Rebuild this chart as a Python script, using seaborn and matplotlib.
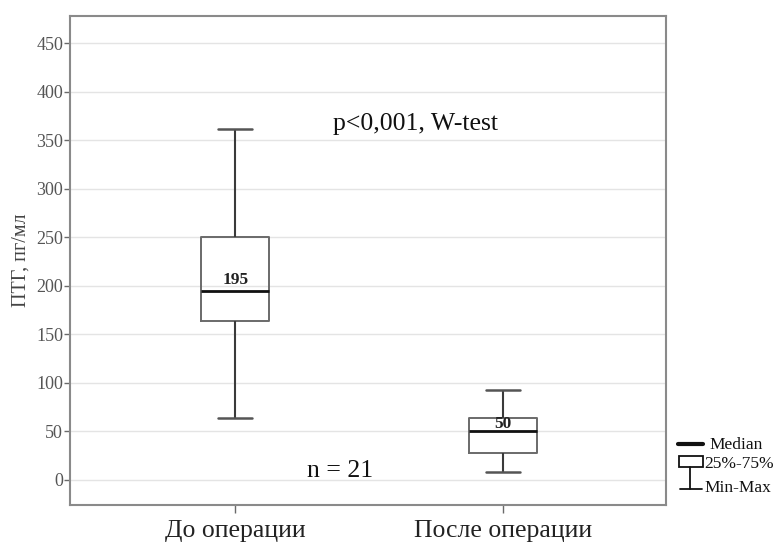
import matplotlib
matplotlib.use("Agg")
import matplotlib.pyplot as plt
from matplotlib.lines import Line2D
from matplotlib.patches import Rectangle
import seaborn as sns
import pandas as pd

# Summary values: min, Q1, median, Q3, max
categories = ["До операции", "После операции"]
before_vals = [64, 164, 195, 250, 362]
after_vals = [8, 28, 50, 64, 93]
medians = [195, 50]
y_ticks = [0, 50, 100, 150, 200, 250, 300, 350, 400, 450]

df = pd.DataFrame({
    "group": [categories[0]] * len(before_vals) + [categories[1]] * len(after_vals),
    "value": before_vals + after_vals,
})

sns.set_theme(style="white")
plt.rcParams["font.family"] = ["Liberation Serif", "DejaVu Serif"]

fig = plt.figure(figsize=(7.8, 5.42), dpi=100)
ax = fig.add_axes([70 / 780, 1 - 505 / 542, (666 - 70) / 780, (505 - 16) / 542])

line_c = "#3a3a3a"
sns.boxplot(
    data=df, x="group", y="value", order=categories, ax=ax,
    whis=(0, 100), width=0.254, fill=False, color=line_c, linecolor=line_c,
    linewidth=1.4,
    medianprops=dict(color="#111111", linewidth=2.0),
    boxprops=dict(color="#6a6a6a", linewidth=1.4),
    whiskerprops=dict(color=line_c, linewidth=1.5),
    capprops=dict(color="#555555", linewidth=1.8),
    showfliers=False,
)

ax.set_xlim(-0.618, 1.61)
ax.set_ylim(-26, 478)
ax.set_yticks(y_ticks)
ax.set_yticklabels([str(t) for t in y_ticks], fontsize=13, color="#555555")
ax.set_xticks([0, 1])
ax.set_xticklabels(categories, fontsize=18.5, color="#222222")
ax.set_xlabel("")
ax.set_ylabel("ПТГ, пг/мл", fontsize=14.5, color="#444444", labelpad=4)

ax.yaxis.grid(True, color="#e4e4e4", linewidth=1.0)
ax.set_axisbelow(True)
for s in ax.spines.values():
    s.set_visible(True)
    s.set_color("#8a8a8a")
    s.set_linewidth(1.5)
ax.tick_params(axis="both", direction="out", length=4, width=1.0, color="#6a6a6a",
               left=True, bottom=True, pad=1)
ax.tick_params(axis="x", length=6, pad=5)

label_offsets = [3, -1]
for i, m in enumerate(medians):
    ax.text(i, m + label_offsets[i], str(m), ha="center", va="bottom", fontsize=12.5,
            color="#222222", fontweight="bold")

ax.text(0.672, 360, "p<0,001, W-test", ha="center", va="baseline", fontsize=18.5, color="#111111")
ax.text(0.39, 2.5, "n = 21", ha="center", va="baseline", fontsize=18.5, color="#111111")

# Legend drawn in figure pixel coordinates (outside right)
def fx(x):
    return x / 780

def fy(y):
    return 1 - y / 542

lc = "#111111"
fig.add_artist(Line2D([fx(678), fx(703)], [fy(444), fy(444)], color=lc, linewidth=3, transform=fig.transFigure))
fig.add_artist(Rectangle((fx(679), fy(467)), fx(703) - fx(679), fy(456) - fy(467), fill=False,
                         edgecolor=lc, linewidth=1.3, transform=fig.transFigure))
fig.add_artist(Line2D([fx(690), fx(690)], [fy(467), fy(489)], color=lc, linewidth=1.3, transform=fig.transFigure))
fig.add_artist(Line2D([fx(680), fx(702)], [fy(489), fy(489)], color=lc, linewidth=1.3, transform=fig.transFigure))
fig.text(fx(709), fy(445), "Median", ha="left", va="center", fontsize=12.5, color=lc)
fig.text(fx(704), fy(464), "25%-75%", ha="left", va="center", fontsize=12.5, color=lc)
fig.text(fx(704), fy(488), "Min-Max", ha="left", va="center", fontsize=12.5, color=lc)

fig.savefig("out.png", dpi=100, facecolor="white")
